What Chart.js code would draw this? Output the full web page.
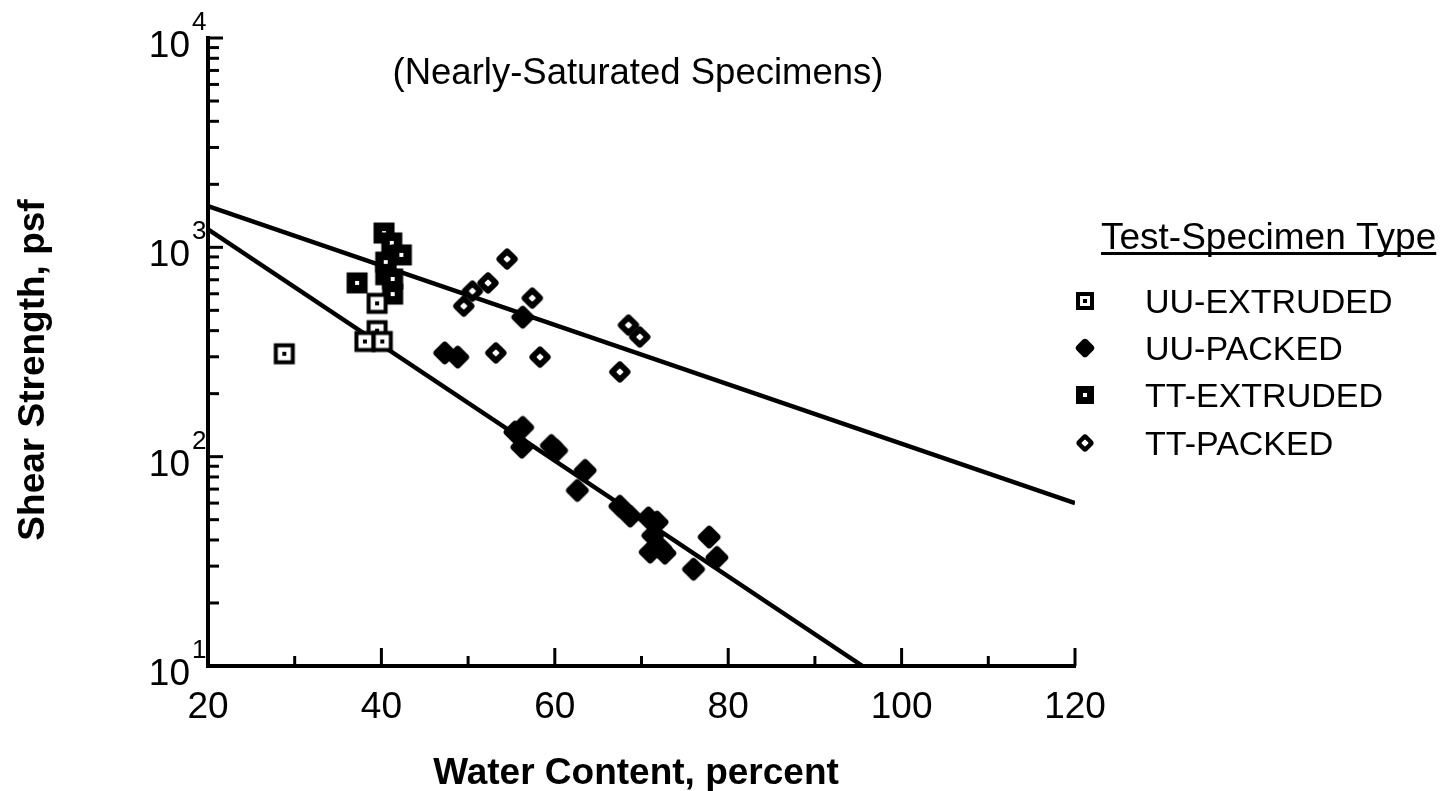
<!DOCTYPE html>
<html lang="en">
<head>
    <meta charset="UTF-8">
    <title>Shear Strength vs Water Content</title>
    <script src="https://cdn.jsdelivr.net/npm/chart.js"></script>
    <style>
        body { margin: 0; background: #fff; }
        .chart-container { width: 1447px; height: 791px; }
    </style>
</head>
<body>
    <div class="chart-container">
        <canvas id="strengthChart" width="1447" height="791"></canvas>
    </div>

    <script>
// data (water content %, shear strength psf)
const uuExtrudedX = [28.8, 39.5, 39.5, 38.1, 40.1];
const uuExtrudedY = [310, 540, 400, 355, 355];

const uuPackedX = [47.3, 48.8, 56.3, 55.4, 56.3, 56.2, 59.6, 60.2, 63.5, 62.6, 67.5, 68.7, 70.8, 71.8, 71.3, 72.2, 71.0, 72.7, 77.8, 78.7, 76.0];
const uuPackedY = [313, 299, 464, 131, 138, 111, 113, 107, 86, 69, 58, 52, 51, 48.7, 42, 36.6, 35, 34.6, 41.3, 33, 29];

const ttExtrudedX = [37.2, 40.3, 41.2, 42.3, 40.5, 40.5, 41.3, 41.3];
const ttExtrudedY = [676, 1170, 1050, 920, 850, 740, 706, 598];

const ttPackedX = [54.5, 52.3, 50.5, 49.5, 57.4, 53.2, 58.3, 68.5, 69.8, 67.5];
const ttPackedY = [879, 676, 618, 524, 572, 313, 299, 425, 373, 254];

// the two fitted lines (end points)
const upperLineX = [20, 120];
const upperLineY = [1575, 60];
const lowerLineX = [20, 95.5];
const lowerLineY = [1220, 10];

const xTickValues = [20, 40, 60, 80, 100, 120];
const yDecades = [1, 2, 3, 4];

const seriesLabels = ['UU-EXTRUDED', 'UU-PACKED', 'TT-EXTRUDED', 'TT-PACKED'];

function pairs(xs, ys) {
    return xs.map((x, i) => ({ x: x, y: ys[i] }));
}

// little canvases used as point styles
function makeMarker(kind, big) {
    const c = document.createElement('canvas');
    c.width = 28; c.height = 28;
    const g = c.getContext('2d');
    g.fillStyle = '#000';
    const q = big ? 21 : 18;
    const o = (28 - q) / 2;
    if (kind === 'uuExt') {
        g.fillRect(o, o, q, q);
        g.fillStyle = '#fff';
        g.fillRect(o + 4, o + 4, q - 8, q - 8);
        g.fillStyle = '#000';
        g.fillRect(12, 12, 4, 4);
    } else if (kind === 'ttExt') {
        g.fillRect(o, o, q, q);
        g.fillStyle = '#fff';
        g.fillRect(12, 12, 4, 4);
    } else {
        const s = kind === 'uuPack' ? (big ? 18 : 15) : (big ? 17 : 14);
        g.translate(14, 14);
        g.rotate(Math.PI / 4);
        g.beginPath();
        g.roundRect(-s / 2, -s / 2, s, s, 3.5);
        g.fill();
        if (kind === 'ttPack') {
            g.fillStyle = '#fff';
            g.beginPath();
            g.roundRect(-2.7, -2.7, 5.4, 5.4, 1);
            g.fill();
        }
    }
    return c;
}

const kinds = ['uuExt', 'uuPack', 'ttExt', 'ttPack'];
const markers = kinds.map(k => makeMarker(k, true));
const legendMarkers = kinds.map(k => makeMarker(k, false));

// inward tick marks, y labels with exponents, titles and legend
const decorations = {
    id: 'decorations',
    afterDraw(chart) {
        const ctx = chart.ctx;
        const xs = chart.scales.x;
        const ys = chart.scales.y;
        const area = chart.chartArea;
        ctx.save();
        ctx.strokeStyle = '#000';
        ctx.fillStyle = '#000';
        ctx.lineWidth = 3;

        // x ticks pointing up into the plot
        for (let v = 20; v <= 120; v += 10) {
            const px = xs.getPixelForValue(v);
            const len = v % 20 === 0 ? 18 : 10;
            ctx.beginPath();
            ctx.moveTo(px, area.bottom);
            ctx.lineTo(px, area.bottom - len);
            ctx.stroke();
        }
        // y ticks pointing right
        for (let d = 1; d <= 4; d++) {
            for (let m = 1; m <= 9; m++) {
                if (d === 4 && m > 1) break;
                const val = m * Math.pow(10, d);
                const py = ys.getPixelForValue(val);
                const len = m === 1 ? 15 : 11;
                ctx.beginPath();
                ctx.moveTo(area.left, py);
                ctx.lineTo(area.left + len, py);
                ctx.stroke();
            }
        }

        // y labels 10^n
        yDecades.forEach(d => {
            const py = ys.getPixelForValue(Math.pow(10, d));
            ctx.font = '37px "Liberation Sans", Arial, sans-serif';
            ctx.textAlign = 'right';
            ctx.textBaseline = 'alphabetic';
            ctx.fillText('10', 190, py + 19);
            ctx.font = '26px "Liberation Sans", Arial, sans-serif';
            ctx.textAlign = 'left';
            ctx.fillText(String(d), 192, py - 8);
        });

        // header
        ctx.font = '36.5px "Liberation Sans", Arial, sans-serif';
        ctx.textAlign = 'center';
        ctx.fillText('(Nearly-Saturated Specimens)', 638, 84);

        // axis titles
        ctx.font = 'bold 37px "Liberation Sans", Arial, sans-serif';
        ctx.fillText('Water Content, percent', 636, 784);
        ctx.save();
        ctx.translate(44, 370);
        ctx.rotate(-Math.PI / 2);
        ctx.fillText('Shear Strength, psf', 0, 0);
        ctx.restore();

        // legend
        ctx.font = '37px "Liberation Sans", Arial, sans-serif';
        ctx.textAlign = 'left';
        const title = 'Test-Specimen Type';
        ctx.fillText(title, 1101, 249);
        const tw = ctx.measureText(title).width;
        ctx.fillRect(1101, 252, tw, 3);
        ctx.font = '34px "Liberation Sans", Arial, sans-serif';
        const rowY = [313, 360, 407, 455];
        seriesLabels.forEach((label, i) => {
            const mk = legendMarkers[i];
            ctx.drawImage(mk, 1085 - mk.width / 2, rowY[i] - 12 - mk.height / 2);
            ctx.fillText(label, 1145, rowY[i]);
        });
        ctx.restore();
    }
};

const ctx = document.getElementById('strengthChart').getContext('2d');
new Chart(ctx, {
    type: 'scatter',
    data: {
        datasets: [
            { label: seriesLabels[0], data: pairs(uuExtrudedX, uuExtrudedY), pointStyle: markers[0], order: 1 },
            { label: seriesLabels[1], data: pairs(uuPackedX, uuPackedY), pointStyle: markers[1], order: 1 },
            { label: seriesLabels[2], data: pairs(ttExtrudedX, ttExtrudedY), pointStyle: markers[2], order: 1 },
            { label: seriesLabels[3], data: pairs(ttPackedX, ttPackedY), pointStyle: markers[3], order: 1 },
            { type: 'line', label: 'fit upper', data: pairs(upperLineX, upperLineY), borderColor: '#000', borderWidth: 4.5, pointRadius: 0, order: 2 },
            { type: 'line', label: 'fit lower', data: pairs(lowerLineX, lowerLineY), borderColor: '#000', borderWidth: 4.5, pointRadius: 0, order: 2 }
        ]
    },
    options: {
        responsive: false,
        animation: false,
        events: [],
        layout: { padding: { top: 38, right: 372, left: 0, bottom: 0 } },
        plugins: {
            legend: { display: false },
            tooltip: { enabled: false }
        },
        scales: {
            x: {
                type: 'linear',
                min: 20,
                max: 120,
                afterFit: s => { s.height = 125; },
                afterBuildTicks: s => { s.ticks = xTickValues.map(v => ({ value: v })); },
                grid: { display: false, drawTicks: false },
                border: { display: true, color: '#000', width: 4 },
                ticks: {
                    color: '#000',
                    padding: 20,
                    maxRotation: 0,
                    font: { family: '"Liberation Sans", Arial, sans-serif', size: 37 }
                }
            },
            y: {
                type: 'logarithmic',
                min: 10,
                max: 10000,
                afterFit: s => { s.width = 208; },
                grid: { display: false, drawTicks: false },
                border: { display: true, color: '#000', width: 4 },
                ticks: { display: false }
            }
        }
    },
    plugins: [decorations]
});
    </script>
</body>
</html>
